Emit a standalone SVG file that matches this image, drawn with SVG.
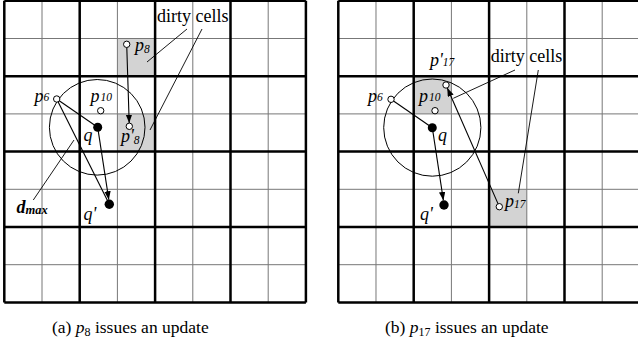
<svg xmlns="http://www.w3.org/2000/svg" width="638" height="360" viewBox="0 0 638 360">
  <defs>
    <style>
      .thin { stroke: #777; stroke-width: 1; fill: none; }
      .thick { stroke: #000; stroke-width: 2.5; fill: none; }
      .dirty { fill: #d3d3d3; stroke: none; }
      .range { fill: none; stroke: #000; stroke-width: 1; }
      .edge { stroke: #000; stroke-width: 1.1; fill: none; }
      .lead { stroke: #000; stroke-width: 0.9; fill: none; }
      .open { fill: #fff; stroke: #000; stroke-width: 1; }
      .solid { fill: #000; stroke: none; }
      text { font-family: "Liberation Serif", "DejaVu Serif", serif; fill: #000; }
      .lbl { font-style: italic; font-size: 18px; }
      .sub { font-size: 11.5px; }
      .note { font-size: 18px; }
      .cap { font-size: 17.5px; }
    </style>
    <marker id="arrow" markerWidth="9" markerHeight="7" refX="8.5" refY="3.2" orient="auto" markerUnits="userSpaceOnUse">
      <path d="M0,0 L8.5,3.2 L0,6.4 z" fill="#000"/>
    </marker>
    <!-- 8x8 grid, cell 37.7, alternate lines heavy -->
    <g id="gridlines">
      <path class="thin" d="M37.7,0 V301.6 M113.1,0 V301.6 M188.5,0 V301.6 M263.9,0 V301.6 M0,37.7 H301.6 M0,113.1 H301.6 M0,188.5 H301.6 M0,263.9 H301.6"/>
      <path class="thick" d="M0,0 V301.6 M75.4,0 V301.6 M150.8,0 V301.6 M226.2,0 V301.6 M301.6,0 V301.6 M0,0 H301.6 M0,75.4 H301.6 M0,150.8 H301.6 M0,226.2 H301.6 M0,301.6 H301.6"/>
    </g>
  </defs>

  <!-- panel (a) -->
  <g id="panel-a">
    <rect class="dirty" x="117.4" y="38.4" width="37.7" height="37.7"/>
    <rect class="dirty" x="117.4" y="113.8" width="37.7" height="37.7"/>
    <use href="#gridlines" x="4.3" y="0.8"/>
    <circle class="range" cx="97.2" cy="127.3" r="47.8"/>
  </g>

  <!-- panel (b) -->
  <g id="panel-b">
    <rect class="dirty" x="413.7" y="76.1" width="37.7" height="37.7"/>
    <rect class="dirty" x="489.1" y="189.2" width="37.7" height="37.7"/>
    <use href="#gridlines" x="338.3" y="0.8"/>
    <circle class="range" cx="432.3" cy="127.6" r="48.6"/>
  </g>

  <g id="connectors">
    <!-- (a) -->
    <line class="edge" x1="126.8" y1="47.5" x2="129.2" y2="123.1" marker-end="url(#arrow)"/>
    <line class="edge" x1="56.7" y1="99" x2="97.7" y2="127.3"/>
    <line class="edge" x1="56.7" y1="99" x2="109.3" y2="204.3"/>
    <line class="edge" x1="97.7" y1="127.3" x2="108.8" y2="199.7" marker-end="url(#arrow)"/>
    <line class="lead" x1="187" y1="29" x2="147" y2="62"/>
    <line class="lead" x1="202" y1="29" x2="150" y2="130"/>
    <line class="lead" x1="33.3" y1="200" x2="74" y2="140"/>
    <!-- (b) -->
    <line class="edge" x1="391" y1="99.3" x2="432.3" y2="127.7"/>
    <line class="edge" x1="432.3" y1="127.7" x2="443.4" y2="200.4" marker-end="url(#arrow)"/>
    <line class="edge" x1="498.1" y1="203.9" x2="447.3" y2="88" marker-end="url(#arrow)"/>
    <line class="lead" x1="515" y1="70" x2="453.3" y2="98.3"/>
    <line class="lead" x1="538.3" y1="70" x2="518.3" y2="193.3"/>
  </g>

  <!-- nodes of panel (a) -->
  <g id="a-p8">
    <circle class="open" cx="126.7" cy="44.3" r="3.2"/>
    <text class="lbl" x="135" y="51">p<tspan class="sub" dy="2">8</tspan></text>
  </g>
  <g id="a-p8-new">
    <circle class="open" cx="129.3" cy="126.3" r="3.2"/>
    <text class="lbl" x="121" y="142">p'<tspan class="sub" dy="2">8</tspan></text>
  </g>
  <g id="a-p6">
    <circle class="open" cx="56.7" cy="99" r="3.2"/>
    <text class="lbl" x="34.5" y="102">p<tspan class="sub" dy="-1">6</tspan></text>
  </g>
  <g id="a-p10">
    <circle class="open" cx="100.7" cy="110.7" r="3.2"/>
    <text class="lbl" x="90.5" y="102">p<tspan class="sub" dx="1" dy="-1">10</tspan></text>
  </g>
  <g id="a-q">
    <circle class="solid" cx="97.7" cy="127.3" r="4.5"/>
    <text class="lbl" x="83.5" y="141" font-size="19">q</text>
  </g>
  <g id="a-q-new">
    <circle class="solid" cx="109.3" cy="204.3" r="4.7"/>
    <text class="lbl" x="83.5" y="220" font-size="19">q'</text>
  </g>
  <g id="a-notes">
    <text class="note" x="157" y="22">dirty cells</text>
    <text class="lbl" x="16.5" y="213" font-size="18" font-weight="bold">d<tspan font-size="12.5" dy="1">max</tspan></text>
  </g>

  <!-- nodes of panel (b) -->
  <g id="b-p6">
    <circle class="open" cx="391" cy="99.3" r="3.2"/>
    <text class="lbl" x="368" y="102">p<tspan class="sub" dy="-1">6</tspan></text>
  </g>
  <g id="b-p10">
    <circle class="open" cx="435" cy="110.7" r="3.2"/>
    <text class="lbl" x="419" y="102">p<tspan class="sub" dx="1" dy="-1">10</tspan></text>
  </g>
  <g id="b-p17-new">
    <circle class="open" cx="446" cy="85" r="3.2"/>
    <text class="lbl" x="430" y="66">p'<tspan class="sub" dy="0">17</tspan></text>
  </g>
  <g id="b-p17">
    <circle class="open" cx="499.3" cy="206.7" r="3.2"/>
    <text class="lbl" x="505" y="207">p<tspan class="sub" dy="1">17</tspan></text>
  </g>
  <g id="b-q">
    <circle class="solid" cx="432.3" cy="127.7" r="4.5"/>
    <text class="lbl" x="438" y="141" font-size="19">q</text>
  </g>
  <g id="b-q-new">
    <circle class="solid" cx="444" cy="205" r="4.7"/>
    <text class="lbl" x="420" y="220" font-size="19">q'</text>
  </g>
  <g id="b-notes">
    <text class="note" x="490.7" y="61.5">dirty cells</text>
  </g>

  <!-- captions -->
  <text class="cap" x="52" y="333">(a) <tspan font-style="italic">p</tspan><tspan font-size="12" dy="2.5">8</tspan><tspan dy="-2.5"> issues an update</tspan></text>
  <text class="cap" x="385" y="333">(b) <tspan font-style="italic">p</tspan><tspan font-size="12" dy="2.5">17</tspan><tspan dy="-2.5"> issues an update</tspan></text>
</svg>
